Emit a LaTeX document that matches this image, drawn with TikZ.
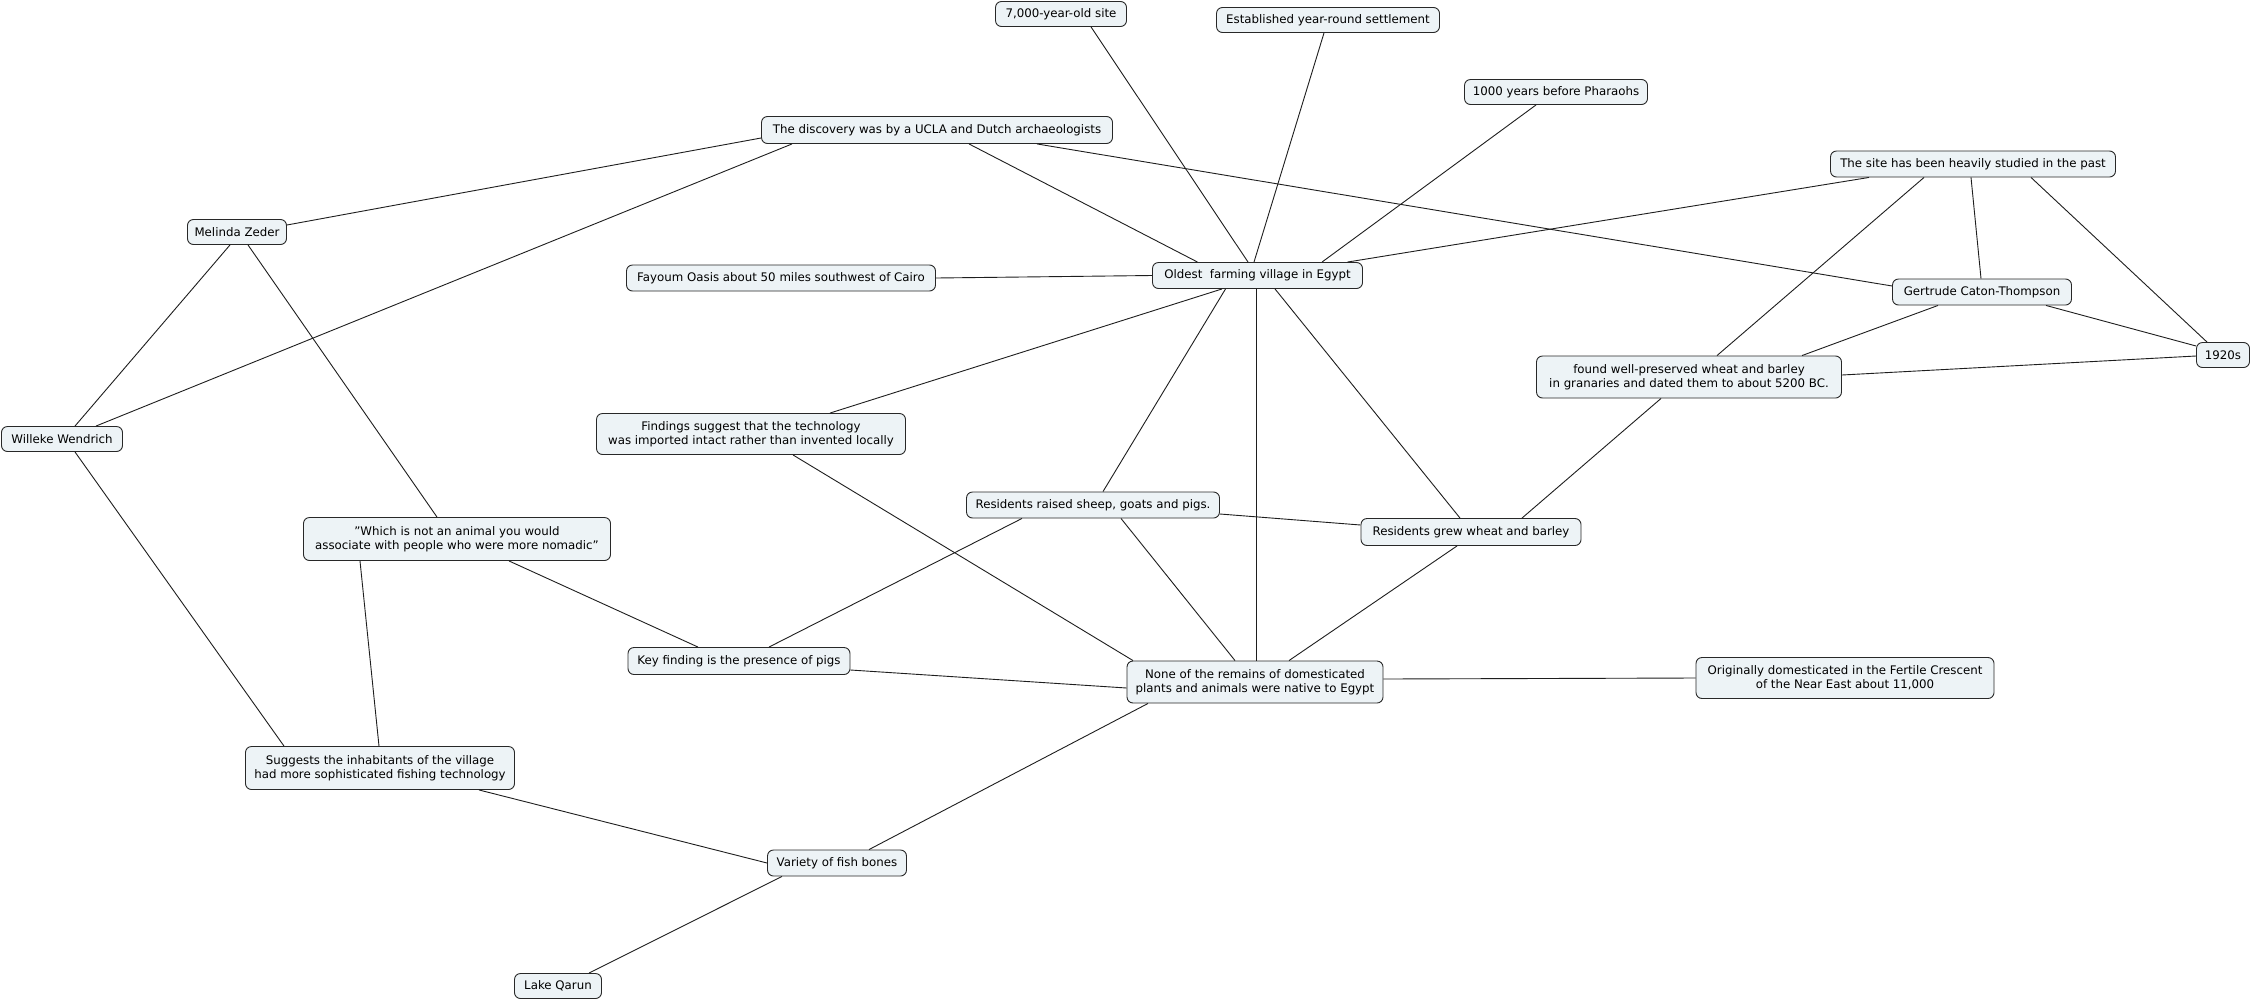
\documentclass[tikz,border=0pt]{standalone}
\usepackage{fontspec}
\setmainfont{DejaVu Sans}
\definecolor{boxfill}{RGB}{237,243,246}
\definecolor{boxline}{RGB}{40,40,40}
\definecolor{linkcol}{RGB}{30,30,30}
\begin{document}
\begin{tikzpicture}[x=1pt,y=-1pt,
  box/.style={draw=boxline, fill=boxfill, rounded corners=6pt, line width=0.9pt,
    font=\fontsize{11.8}{14}\selectfont, align=center, inner sep=1pt},
  link/.style={draw=linkcol, line width=0.9pt}]
\useasboundingbox[fill=white] (0,0) rectangle (2251,1002);
\node[box, minimum width=131pt, minimum height=25pt] (n7000) at (1061,14) {7,000-year-old site};
\node[box, minimum width=223pt, minimum height=25pt] (settle) at (1328,20) {Established year-round settlement};
\node[box, minimum width=183pt, minimum height=25pt] (pharaohs) at (1556,92) {1000 years before Pharaohs};
\node[box, minimum width=351pt, minimum height=27pt] (ucla) at (937,130) {The discovery was by a UCLA and Dutch archaeologists};
\node[box, minimum width=285pt, minimum height=26pt] (studied) at (1973,164) {The site has been heavily studied in the past};
\node[box, minimum width=99pt, minimum height=25pt] (zeder) at (237,232) {Melinda Zeder};
\node[box, minimum width=309pt, minimum height=26pt] (fayoum) at (781,278) {Fayoum Oasis about 50 miles southwest of Cairo};
\node[box, minimum width=210pt, minimum height=26pt] (oldest) at (1257.5,275.5) {Oldest~ farming village in Egypt};
\node[box, minimum width=179pt, minimum height=26pt] (gertrude) at (1982,292) {Gertrude Caton-Thompson};
\node[box, minimum width=53pt, minimum height=25pt] (y1920) at (2223,355) {1920s};
\node[box, minimum width=305pt, minimum height=42pt] (found) at (1689,377) {found well-preserved wheat and barley\\in granaries and dated them to about 5200 BC.};
\node[box, minimum width=121pt, minimum height=25pt] (willeke) at (62,439) {Willeke Wendrich};
\node[box, minimum width=309pt, minimum height=41pt] (findings) at (751,434) {Findings suggest that the technology\\was imported intact rather than invented locally};
\node[box, minimum width=253pt, minimum height=26pt] (sheep) at (1093,505) {Residents raised sheep, goats and pigs.};
\node[box, minimum width=220pt, minimum height=27pt] (wheat) at (1471,532) {Residents grew wheat and barley};
\node[box, minimum width=307pt, minimum height=43pt] (nomadic) at (457,539) {"Which is not an animal you would\\associate with people who were more nomadic"};
\node[box, minimum width=222pt, minimum height=27pt] (keypigs) at (739,661) {Key finding is the presence of pigs};
\node[box, minimum width=256pt, minimum height=42pt] (none) at (1255,682) {None of the remains of domesticated\\plants and animals were native to Egypt};
\node[box, minimum width=298pt, minimum height=41pt] (orig) at (1845,678) {Originally domesticated in the Fertile Crescent\\of the Near East about 11,000};
\node[box, minimum width=269pt, minimum height=43pt] (suggests) at (380,768) {Suggests the inhabitants of the village\\had more sophisticated fishing technology};
\node[box, minimum width=139pt, minimum height=26pt] (fish) at (837,863) {Variety of fish bones};
\node[box, minimum width=87pt, minimum height=25pt] (qarun) at (558,986) {Lake Qarun};

\draw[link] ([xshift=-9.5pt]oldest.north) -- ([xshift=30pt]n7000.south);
\draw[link] ([xshift=-3.5pt]oldest.north) -- ([xshift=-4pt]settle.south);
\draw[link] ([xshift=64.5pt]oldest.north) -- ([xshift=-20pt]pharaohs.south);
\draw[link] ([xshift=-60pt]oldest.north) -- ([xshift=32pt]ucla.south);
\draw[link] ([xshift=90pt]oldest.north) -- ([xshift=-104pt]studied.south);
\draw[link] (oldest.west) -- (fayoum.east);
\draw[link] ([xshift=-35.5pt]oldest.south) -- ([xshift=79pt]findings.north);
\draw[link] ([xshift=-32pt]oldest.south) -- ([xshift=10pt]sheep.north);
\draw[link] ([xshift=-1.5pt]oldest.south) -- ([xshift=1pt]none.north);
\draw[link] ([xshift=17.5pt]oldest.south) -- ([xshift=-11pt]wheat.north);
\draw[link] ([yshift=-8pt]ucla.west) -- ([yshift=7pt]zeder.east);
\draw[link] ([xshift=-145pt]ucla.south) -- ([xshift=34pt]willeke.north);
\draw[link] ([xshift=100pt]ucla.south) -- ([yshift=6pt]gertrude.west);
\draw[link] ([xshift=-49pt]studied.south) -- ([xshift=28pt]found.north);
\draw[link] ([xshift=-2pt]studied.south) -- ([xshift=-1pt]gertrude.north);
\draw[link] ([xshift=58pt]studied.south) -- ([xshift=-16pt]y1920.north);
\draw[link] ([xshift=-44pt]gertrude.south) -- ([xshift=113pt]found.north);
\draw[link] ([xshift=64pt]gertrude.south) -- ([yshift=9pt]y1920.west);
\draw[link] ([yshift=2pt]found.east) -- ([yshift=-1pt]y1920.west);
\draw[link] ([xshift=-28pt]found.south) -- ([xshift=51pt]wheat.north);
\draw[link] ([xshift=-7pt]zeder.south) -- ([xshift=13pt]willeke.north);
\draw[link] ([xshift=11pt]zeder.south) -- ([xshift=-20pt]nomadic.north);
\draw[link] ([xshift=13pt]willeke.south) -- ([xshift=-96pt]suggests.north);
\draw[link] ([xshift=42pt]findings.south) -- ([xshift=-122pt]none.north);
\draw[link] ([yshift=-9pt]sheep.east) -- ([yshift=7pt]wheat.west);
\draw[link] ([xshift=-71pt]sheep.south) -- ([xshift=30pt]keypigs.north);
\draw[link] ([xshift=28pt]sheep.south) -- ([xshift=-20pt]none.north);
\draw[link] ([xshift=-14pt]wheat.south) -- ([xshift=34pt]none.north);
\draw[link] ([xshift=52pt]nomadic.south) -- ([xshift=-41pt]keypigs.north);
\draw[link] ([xshift=-97pt]nomadic.south) -- ([xshift=-1pt]suggests.north);
\draw[link] ([yshift=-9pt]keypigs.east) -- ([yshift=-6pt]none.west);
\draw[link] ([yshift=3pt]none.east) -- (orig.west);
\draw[link] ([xshift=-107pt]none.south) -- ([xshift=32pt]fish.north);
\draw[link] ([xshift=99pt]suggests.south) -- (fish.west);
\draw[link] ([xshift=-55pt]fish.south) -- ([xshift=31pt]qarun.north);
\end{tikzpicture}
\end{document}
